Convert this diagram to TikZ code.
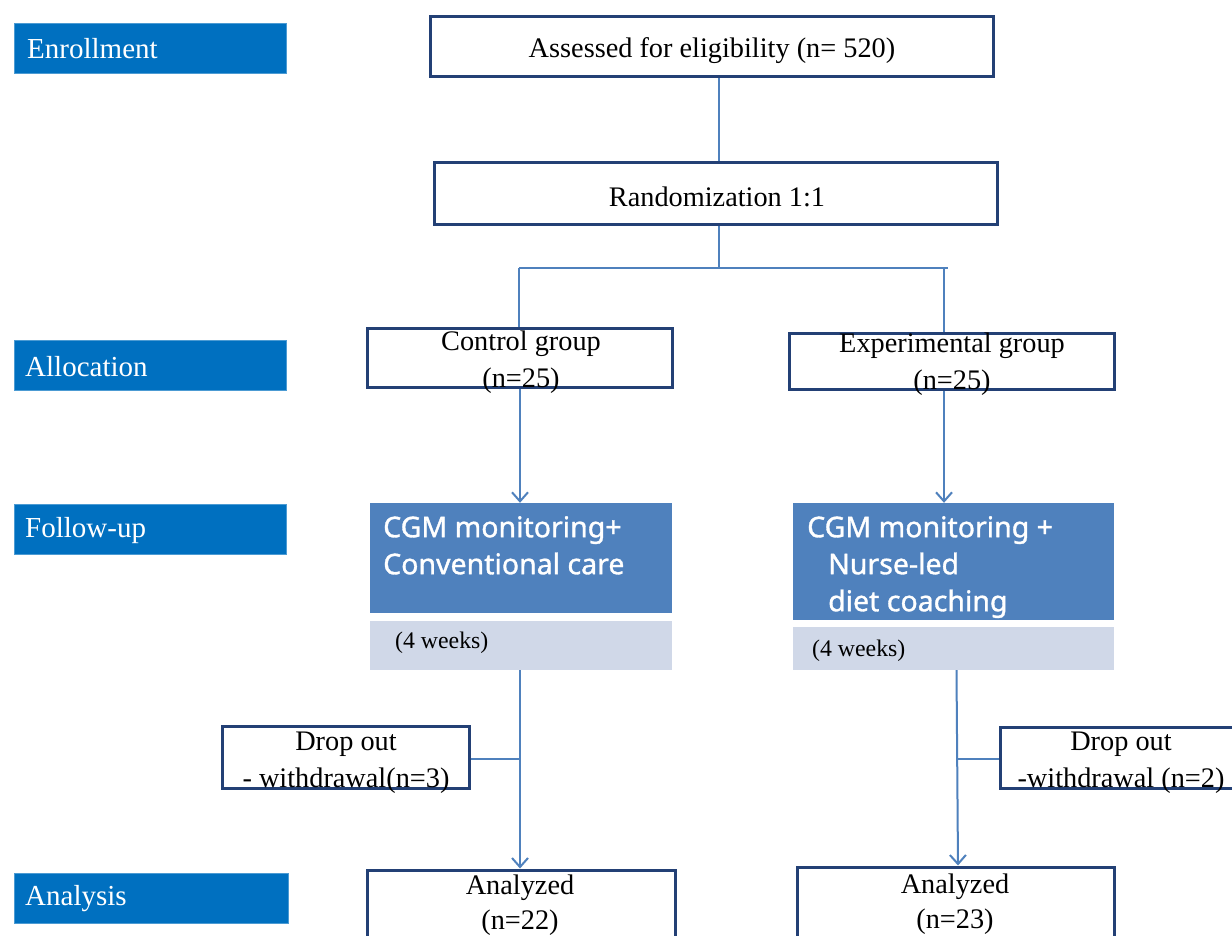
\documentclass[tikz,border=0pt]{standalone}
\usepackage{fontspec}
\setmainfont{Liberation Serif}
\newfontfamily\cgmfont[FakeBold=1.2]{Noto Sans}
\usetikzlibrary{arrows.meta}
\definecolor{labelblue}{RGB}{0,112,192}
\definecolor{navyline}{RGB}{35,64,117}
\definecolor{linkblue}{RGB}{79,129,189}
\definecolor{cgmfill}{RGB}{79,129,189}
\definecolor{weekfill}{RGB}{208,216,232}
\tikzset{
  stagelabel/.style={fill=labelblue, draw=labelblue!70!white, line width=0.8pt, minimum width=272pt, minimum height=50pt, inner sep=0pt},
  stagetext/.style={text=white, font=\fontsize{29}{33}\selectfont, anchor=west, inner sep=0pt},
  flowbox/.style={draw=navyline, line width=3pt, fill=white, inner sep=0pt},
  flowtext/.style={font=\fontsize{28.3}{37}\selectfont, align=center, inner sep=0pt},
  bottomtext/.style={font=\fontsize{28.3}{35}\selectfont, align=center, inner sep=0pt},
  cgmbox/.style={fill=cgmfill, inner sep=0pt},
  cgmtext/.style={text=white, font=\cgmfont\fontsize{28.5}{37}\selectfont, align=left, anchor=north west, inner sep=0pt},
  weekbox/.style={fill=weekfill, inner sep=0pt},
  weektext/.style={font=\fontsize{23.8}{28}\selectfont, anchor=west, inner sep=0pt},
  link/.style={draw=linkblue, line width=2pt},
  arrowlink/.style={link, -{Straight Barb[length=9pt,width=16pt,line width=2pt]}}
}
\begin{document}
\begin{tikzpicture}[x=1pt,y=-1pt]
\clip (0,0) rectangle (1232,936);
\fill[white] (0,0) rectangle (1232,936);

% stage labels
\node[stagelabel] (enrL) at (150,48) {};
\node[stagetext] (enrT) at (27,49) {Enrollment};
\node[stagelabel] (allL) at (150,365.5) {};
\node[stagetext] (allT) at (25,367) {Allocation};
\node[stagelabel] (folL) at (150,529) {};
\node[stagetext] (folT) at (25,531) {Follow-up};
\node[stagelabel, minimum width=274pt] (anaL) at (151,898) {};
\node[stagetext] (anaT) at (25,899) {Analysis};

% top boxes
\node[flowbox, minimum width=563pt, minimum height=60pt] (assess) at (711.5,47) {};
\node[flowtext] (assessT) at (712,51) {Assessed for eligibility (n= 520)};
\node[flowbox, minimum width=563pt, minimum height=62pt] (rand) at (715.5,194) {};
\node[flowtext] (randT) at (717,197) {Randomization 1:1};

% allocation boxes
\node[flowbox, minimum width=305pt, minimum height=59pt] (ctrl) at (519.5,357.5) {};
\node[flowtext] (ctrlT) at (521,362) {Control group\\(n=25)};
\node[flowbox, minimum width=325pt, minimum height=56pt] (expt) at (951.5,361) {};
\node[flowtext] (exptT) at (952,364) {Experimental group\\(n=25)};

% follow-up boxes
\node[cgmbox, minimum width=302pt, minimum height=110pt] (cgmL) at (521,558) {};
\node[cgmtext] (cgmLT) at (383,516) {CGM monitoring+\\Conventional care};
\node[weekbox, minimum width=302pt, minimum height=49pt] (wkL) at (521,645.5) {};
\node[weektext] (wkLT) at (395,643) {(4 weeks)};

\node[cgmbox, minimum width=321pt, minimum height=117pt] (cgmR) at (953.5,561.5) {};
\node[cgmtext] (cgmRT) at (807,516) {CGM monitoring +\\\hspace*{21pt}Nurse-led\\\hspace*{21pt}diet coaching};
\node[weekbox, minimum width=321pt, minimum height=43pt] (wkR) at (953.5,648.5) {};
\node[weektext] (wkRT) at (812,651) {(4 weeks)};

% drop out boxes
\node[flowbox, minimum width=247pt, minimum height=62pt] (dropL) at (345.5,757) {};
\node[flowtext] (dropLT) at (346,763) {Drop out\\- withdrawal(n=3)};
\node[flowbox, minimum width=244pt, minimum height=61pt] (dropR) at (1122,757.5) {};
\node[flowtext] (dropRT) at (1121,763) {Drop out\\-withdrawal (n=2)};

% analysis boxes
\node[flowbox, minimum width=308pt, minimum height=110pt] (anaLb) at (521,925) {};
\node[bottomtext] (anaLT) at (520,905) {Analyzed\\(n=22)};
\node[flowbox, minimum width=317pt, minimum height=110pt] (anaRb) at (955.5,922) {};
\node[bottomtext] (anaRT) at (955,904) {Analyzed\\(n=23)};

% junction coordinates
\coordinate (splitC) at (719,268);
\coordinate (splitL) at (519,268);
\coordinate (splitR) at (948,268);
\coordinate (turnR) at (944,268);
\coordinate (dropLJ) at (520,759);
\coordinate (dropRJ) at (957,759);

% connectors
\draw[link] (assess.south -| 719,0) -- (rand.north -| 719,0);
\draw[link] (rand.south -| 719,0) -- (splitC);
\draw[link] (splitL) -- (splitR);
\draw[link] (splitL) -- (ctrl.north -| splitL);
\draw[link] (turnR) -- (expt.north -| turnR);
\draw[arrowlink] (ctrl.south -| 520,0) -- (cgmL.north -| 520,0);
\draw[arrowlink] (expt.south -| 944,0) -- (cgmR.north -| 944,0);
\draw[arrowlink] (wkL.south -| 520,0) -- (anaLb.north -| 520,0);
\draw[arrowlink] ([xshift=1.5pt]wkR.south -| 955,0) -- ([xshift=3pt]anaRb.north -| 955,0);
\draw[link] (dropL.east |- dropLJ) -- (dropLJ);
\draw[link] (dropRJ) -- (dropR.west |- dropRJ);
\end{tikzpicture}
\end{document}
